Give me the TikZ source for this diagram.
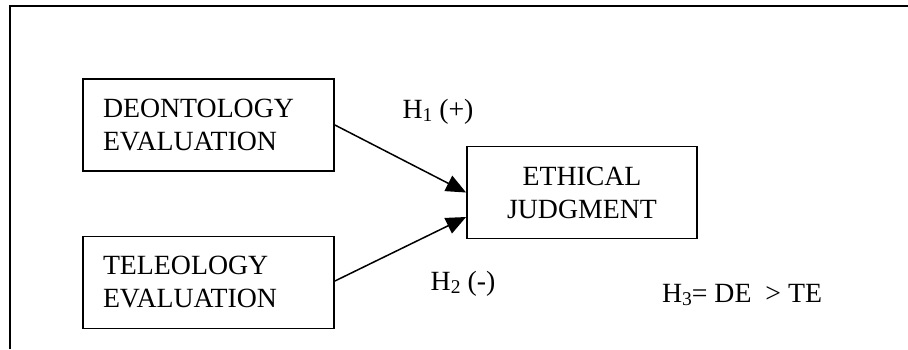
\documentclass[tikz,border=0pt]{standalone}
\usepackage{fontspec}
\setmainfont{Liberation Serif}
\usetikzlibrary{arrows.meta, positioning}
\newcommand{\hsub}[1]{\raisebox{-3.3pt}{\fontsize{19.5}{19.5}\selectfont #1}}
\tikzset{
  every picture/.style={line width=1.4pt},
  box/.style={draw=black, line width=1.8pt, minimum height=92pt, inner xsep=20pt, inner ysep=0pt, font=\fontsize{27.8}{33}\selectfont},
  leftbox/.style={box, text width=211pt, align=left},
  midbox/.style={box, minimum width=230pt, align=center},
  arrow/.style={-{Triangle[length=20pt, width=17pt]}, draw=black, line width=1.5pt},
  note/.style={font=\fontsize{27.8}{33}\selectfont, inner sep=0pt},
}

\begin{document}
\begin{tikzpicture}[x=1pt, y=-1pt]
  \useasboundingbox (0,0) rectangle (908,349);
  % ---- frame
  \draw[line width=2.2pt] (10,349) -- (10,6) -- (908,6);
  % ---- boxes
  \node[leftbox] (deon) at (208.5,125) {DEONTOLOGY\\EVALUATION};
  \node[leftbox] (tele) at (208.5,282.5) {TELEOLOGY\\EVALUATION};
  \node[midbox] (judg) at (582,192.5) {ETHICAL\\JUDGMENT};
  % ---- arrows
  \draw[arrow] (deon.east) -- (judg.west);
  \draw[arrow] ([yshift=1.5pt]tele.east) -- ([yshift=-24.5pt]judg.west);
  % ---- hypotheses
  \node[note] (hone) at (438,112) {H\hsub{1} (+)};
  \node[note] (htwo) at (463,284) {H\hsub{2} (-)};
  \node[note] (hthree) at (742,295) {H\hsub{3}= DE\ \ > TE};
\end{tikzpicture}
\end{document}
